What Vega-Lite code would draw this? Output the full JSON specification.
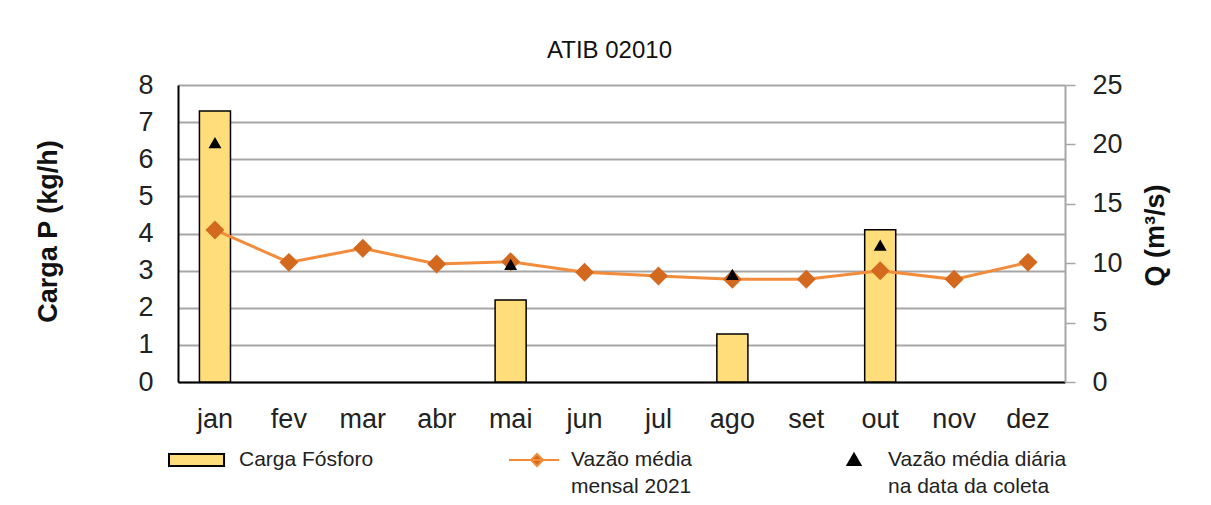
{
  "$schema": "https://vega.github.io/schema/vega-lite/v6.json",
  "width": 887,
  "height": 297,
  "autosize": {"type": "none"},
  "padding": {"left": 178, "top": 85, "right": 146, "bottom": 123},
  "background": "white",
  "title": {"text": "ATIB 02010", "fontSize": 24, "fontWeight": "normal", "font": "Liberation Sans", "color": "#111", "anchor": "middle", "baseline": "alphabetic", "offset": 26, "dx": -12, "dy": 37},
  "config": {
    "font": "Liberation Sans",
    "view": {"stroke": null},
    "legend": {"title": null, "labelFontSize": 21, "labelFont": "Liberation Sans", "labelColor": "#222", "symbolSize": 900, "symbolStrokeWidth": 2, "labelOffset": 18, "columnPadding": 130, "columns": 3, "direction": "horizontal", "gridAlign": "each", "labelLimit": 400}
  },
  "data": {"values": [
    {"mes": "jan", "serie": "Carga Fósforo", "valor": 7.3},
    {"mes": "mai", "serie": "Carga Fósforo", "valor": 2.21},
    {"mes": "ago", "serie": "Carga Fósforo", "valor": 1.29},
    {"mes": "out", "serie": "Carga Fósforo", "valor": 4.1},
    {"mes": "jan", "serie": "Vazão média mensal 2021", "valor": 12.8},
    {"mes": "fev", "serie": "Vazão média mensal 2021", "valor": 10.07},
    {"mes": "mar", "serie": "Vazão média mensal 2021", "valor": 11.25},
    {"mes": "abr", "serie": "Vazão média mensal 2021", "valor": 9.93},
    {"mes": "mai", "serie": "Vazão média mensal 2021", "valor": 10.13},
    {"mes": "jun", "serie": "Vazão média mensal 2021", "valor": 9.23},
    {"mes": "jul", "serie": "Vazão média mensal 2021", "valor": 8.92},
    {"mes": "ago", "serie": "Vazão média mensal 2021", "valor": 8.64},
    {"mes": "set", "serie": "Vazão média mensal 2021", "valor": 8.64},
    {"mes": "out", "serie": "Vazão média mensal 2021", "valor": 9.37},
    {"mes": "nov", "serie": "Vazão média mensal 2021", "valor": 8.64},
    {"mes": "dez", "serie": "Vazão média mensal 2021", "valor": 10.07},
    {"mes": "jan", "serie": "Vazão média diária na data da coleta", "valor": 20.1},
    {"mes": "mai", "serie": "Vazão média diária na data da coleta", "valor": 9.85},
    {"mes": "ago", "serie": "Vazão média diária na data da coleta", "valor": 9.0},
    {"mes": "out", "serie": "Vazão média diária na data da coleta", "valor": 11.47}
  ]},
  "encoding": {
    "x": {
      "field": "mes", "type": "nominal",
      "scale": {"domain": ["jan","fev","mar","abr","mai","jun","jul","ago","set","out","nov","dez"], "paddingInner": 0.58, "paddingOuter": 0.29},
      "axis": {"title": null, "labelAngle": 0, "labelFontSize": 27, "labelColor": "#222", "labelPadding": 24, "ticks": false, "domainColor": "#000", "domainWidth": 2, "labelFont": "Liberation Sans"}
    }
  },
  "layer": [
    {
      "transform": [{"filter": "datum.serie == 'Carga Fósforo'"}],
      "mark": {"type": "bar", "stroke": "#000", "strokeWidth": 1.5},
      "encoding": {
        "y": {"field": "valor", "type": "quantitative", "scale": {"domain": [0, 8], "nice": false},
          "axis": {"values": [0,1,2,3,4,5,6,7,8], "title": "Carga P (kg/h)", "titleFontSize": 27, "titleFontWeight": "bold", "titleColor": "#111", "titleAngle": 270, "titleAlign": "center", "titleBaseline": "middle", "titleX": -130, "titleY": 146, "labelFontSize": 27, "labelColor": "#222", "labelPadding": 25, "ticks": false, "domainColor": "#000", "domainWidth": 2, "grid": true, "gridColor": "#A6A6A6", "gridWidth": 2}},
        "fill": {"field": "serie", "type": "nominal",
          "scale": {"domain": ["Carga Fósforo", "Vazão média mensal 2021", "Vazão média diária na data da coleta"], "range": ["#FFDD7A", "#D2691E", "#000000"]},
          "legend": {"orient": "none", "legendX": 11, "legendY": 359, "encode": {"labels": {"update": {"lineHeight": {"value": 27}}}}, "labelExpr": "datum.label == 'Vazão média mensal 2021' ? ['Vazão média', 'mensal 2021'] : datum.label == 'Vazão média diária na data da coleta' ? ['Vazão média diária', 'na data da coleta'] : [datum.label, ' ']"}}
      }
    },
    {
      "encoding": {
        "y": {"field": "valor", "type": "quantitative", "scale": {"domain": [0, 25], "nice": false},
          "axis": {"orient": "right", "values": [0,5,10,15,20,25], "title": "Q (m³/s)", "titleFontSize": 27, "titleFontWeight": "bold", "titleColor": "#111", "titleAngle": 270, "titleAlign": "center", "titleBaseline": "middle", "titleX": 90, "titleY": 150, "labelFontSize": 27, "labelColor": "#222", "labelPadding": 17, "tickSize": 10, "tickColor": "#A6A6A6", "tickWidth": 1.5, "domainColor": "#A6A6A6", "domainWidth": 2, "grid": false}}
      },
      "layer": [
        {
          "transform": [{"filter": "datum.serie == 'Vazão média mensal 2021'"}],
          "mark": {"type": "line", "strokeWidth": 3},
          "encoding": {
            "stroke": {"field": "serie", "type": "nominal",
              "scale": {"domain": ["Carga Fósforo", "Vazão média mensal 2021", "Vazão média diária na data da coleta"], "range": ["#000000", "#F28C3A", "#000000"]},
              "legend": {"orient": "none", "legendX": 11, "legendY": 359, "encode": {"labels": {"update": {"lineHeight": {"value": 27}}}}, "labelExpr": "datum.label == 'Vazão média mensal 2021' ? ['Vazão média', 'mensal 2021'] : datum.label == 'Vazão média diária na data da coleta' ? ['Vazão média diária', 'na data da coleta'] : [datum.label, ' ']"}}
          }
        },
        {
          "transform": [{"filter": "datum.serie == 'Vazão média mensal 2021'"}],
          "mark": {"type": "point", "shape": "diamond", "filled": true, "size": 360, "opacity": 1, "strokeWidth": 0},
          "encoding": {
            "fill": {"field": "serie", "type": "nominal"}
          }
        },
        {
          "transform": [{"filter": "datum.serie == 'Vazão média diária na data da coleta'"}],
          "mark": {"type": "point", "filled": true, "size": 900, "opacity": 1, "strokeWidth": 0},
          "encoding": {
            "fill": {"field": "serie", "type": "nominal"},
            "shape": {"field": "serie", "type": "nominal",
              "scale": {"domain": ["Carga Fósforo", "Vazão média mensal 2021", "Vazão média diária na data da coleta"],
                "range": ["M-2.4,-0.4H1.27V0.4H-2.4Z", "M-1.87,0H1.47M0,-0.4L0.4,0L0,0.4L-0.4,0ZM11.13,0", "M0,-0.42L0.43,0.33L-0.43,0.33Z"]},
              "legend": {"orient": "none", "legendX": 11, "legendY": 359, "encode": {"labels": {"update": {"lineHeight": {"value": 27}}}}, "labelExpr": "datum.label == 'Vazão média mensal 2021' ? ['Vazão média', 'mensal 2021'] : datum.label == 'Vazão média diária na data da coleta' ? ['Vazão média diária', 'na data da coleta'] : [datum.label, ' ']"}}
          }
        }
      ]
    }
  ],
  "resolve": {"scale": {"y": "independent"}}
}
